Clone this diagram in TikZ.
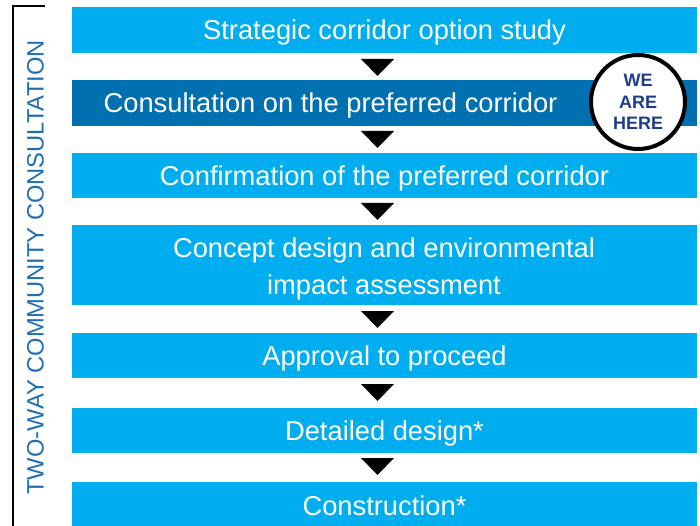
\documentclass[tikz,border=0pt]{standalone}
\usepackage{fontspec}
\setmainfont{Liberation Sans}
\begin{document}
\definecolor{lightblue}{RGB}{0,174,239}
\definecolor{darkblue}{RGB}{0,112,176}
\definecolor{sideblue}{RGB}{30,110,180}
\definecolor{navy}{RGB}{30,60,140}
\begin{tikzpicture}[x=1pt,y=-1pt,
  box/.style={fill=lightblue,draw=none,minimum width=625pt,inner sep=0pt,text=white,
    font=\fontsize{27.3}{36}\selectfont,text height=20pt,text depth=0pt},
  boxtext/.style={text=white,font=\fontsize{27.3}{36}\selectfont,inner sep=0pt,text height=20pt,text depth=0pt},
  tri/.style={fill=black},
  herecircle/.style={circle,draw=black,line width=4pt,fill=white,minimum size=94pt,inner sep=0pt,
    text=navy,font=\bfseries\fontsize{18}{21.5}\selectfont,align=center},
  sidetext/.style={text=sideblue,font=\fontsize{23.7}{26}\selectfont,rotate=90,inner sep=0pt}]
\useasboundingbox (0,0) rectangle (700,526);
% bracket
\draw[line width=2pt] (45,6) -- (13,6) -- (13,527);
\node[sidetext] (side) at (35.5,267.5) {TWO-WAY COMMUNITY CONSULTATION};
% boxes
\node[box,minimum height=46pt] (b1) at (384.5,30) {Strategic corridor option study};
\node[box,fill=darkblue,minimum height=46pt] (b2) at (384.5,103) {};
\node[boxtext] (t2) at (330.5,103) {Consultation on the preferred corridor};
\node[box,minimum height=45pt] (b3) at (384.5,175.5) {Confirmation of the preferred corridor};
\node[box,minimum height=80pt] (b4) at (384.5,265) {};
\node[boxtext] (t4a) at (384,248) {Concept design and environmental};
\node[boxtext] (t4b) at (384,284) {impact assessment};
\node[box,minimum height=45pt] (b5) at (384.5,355.5) {Approval to proceed};
\node[box,minimum height=45pt] (b6) at (384.5,430.5) {Detailed design*};
\node[box,minimum height=46pt] (b7) at (384.5,505) {Construction*};
% arrows (triangles)
\fill[tri] (361,59) -- (394,59) -- (377.5,76) -- cycle;
\fill[tri] (361,131) -- (394,131) -- (377.5,148) -- cycle;
\fill[tri] (361,203) -- (394,203) -- (377.5,220) -- cycle;
\fill[tri] (361,311) -- (394,311) -- (377.5,328) -- cycle;
\fill[tri] (361,384) -- (394,384) -- (377.5,401) -- cycle;
\fill[tri] (361,458) -- (394,458) -- (377.5,475) -- cycle;
% we are here
\node[herecircle] (here) at (638,102) {WE\\ARE\\HERE};
\end{tikzpicture}
\end{document}
